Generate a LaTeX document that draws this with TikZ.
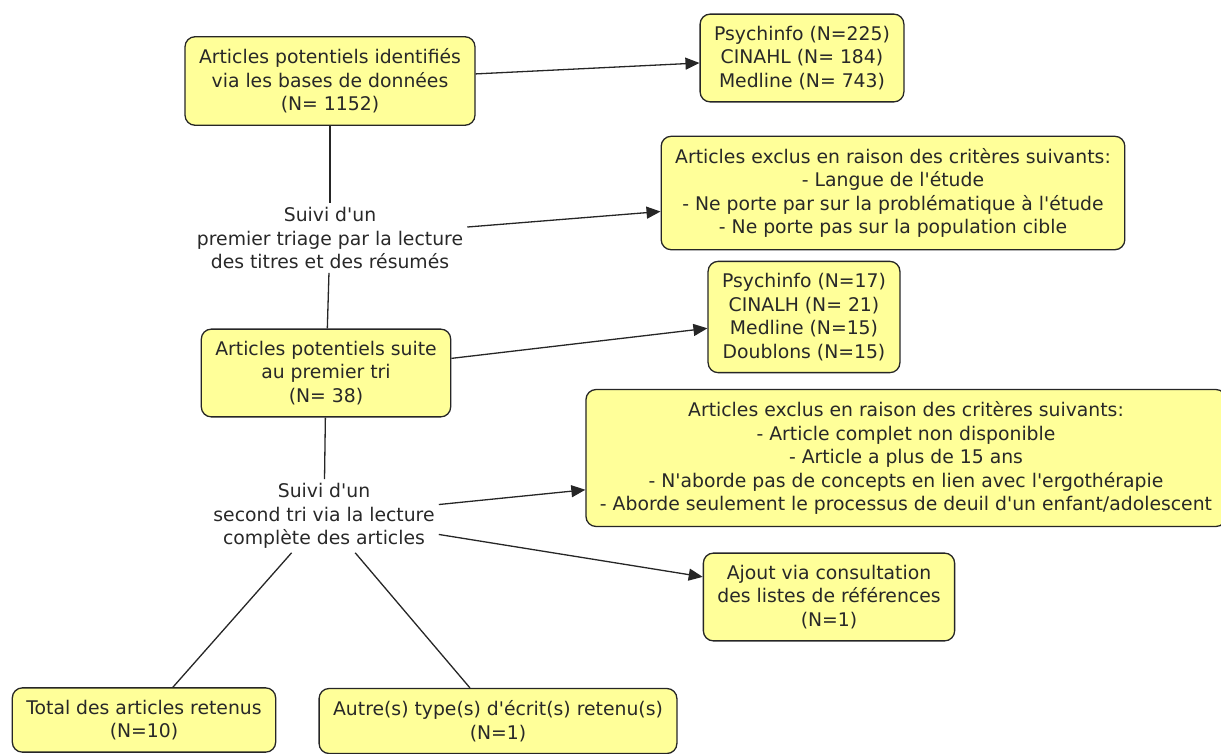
\documentclass[tikz,border=0pt]{standalone}
\usepackage{fontspec}
\setmainfont{DejaVu Sans}[Ligatures=TeXOff]
\usetikzlibrary{arrows.meta}
\definecolor{jaune}{RGB}{255,255,153}
\definecolor{texte}{RGB}{40,40,40}
\tikzset{
 boite/.style={draw=black!85,fill=jaune,rounded corners=10pt,line width=1.3pt,align=center,inner xsep=14pt,inner ysep=12pt,text=texte,font=\fontsize{18.8}{23.5}\selectfont},
 etiq/.style={align=center,inner sep=4pt,text=texte,font=\fontsize{18.8}{23.5}\selectfont},
 lien/.style={line width=1.3pt,draw=black!85},
 fleche/.style={lien,-{Triangle[length=14pt,width=12pt]}}
}
\begin{document}
\begin{tikzpicture}[x=1pt,y=-1pt]
 \useasboundingbox (0,0) rectangle (1221,753);
 \node (boite 1) at (330,81) [boite] {Articles potentiels identifiés\\ via les bases de données\\ (N= 1152)};
 \node (boite 2) at (802,58) [boite] {Psychinfo (N=225)\\ CINAHL (N= 184)\\ Medline (N= 743)};
 \node (etiq 1) at (330,238) [etiq] {Suivi d'un\\ premier triage par la lecture\\ des titres et des résumés};
 \node (boite 3) at (893,193) [boite] {Articles exclus en raison des critères suivants:\\ - Langue de l'étude\\ - Ne porte par sur la problématique à l'étude\\ - Ne porte pas sur la population cible};
 \node (boite 4) at (804,317) [boite] {Psychinfo (N=17)\\ CINALH (N= 21)\\ Medline (N=15)\\ Doublons (N=15)};
 \node (boite 5) at (326,373) [boite] {Articles potentiels suite\\ au premier tri\\ (N= 38)};
 \node (etiq 2) at (324,516) [etiq] {Suivi d'un\\ second tri via la lecture\\ complète des articles};
 \node (boite 6) at (906,458) [boite] {Articles exclus en raison des critères suivants:\\ - Article complet non disponible\\ - Article a plus de 15 ans\\ - N'aborde pas de concepts en lien avec l'ergothérapie\\ - Aborde seulement le processus de deuil d'un enfant/adolescent};
 \node (boite 7) at (829,597) [boite] {Ajout via consultation\\ des listes de références\\ (N=1)};
 \node (boite 8) at (144,720) [boite] {Total des articles retenus\\ (N=10)};
 \node (boite 9) at (498,721) [boite] {Autre(s) type(s) d'écrit(s) retenu(s)\\ (N=1)};
 \draw [fleche] (boite 1) -- (boite 2);
 \draw [lien] (boite 1) -- (etiq 1);
 \draw [lien] (etiq 1) -- (boite 5);
 \draw [fleche] (etiq 1) -- (boite 3);
 \draw [fleche] (boite 5) -- (boite 4);
 \draw [lien] (boite 5) -- (etiq 2);
 \draw [fleche] (etiq 2) -- (boite 6);
 \draw [fleche] (etiq 2) -- (boite 7);
 \draw [lien] (etiq 2) -- (boite 8);
 \draw [lien] (etiq 2) -- (boite 9);
\end{tikzpicture}
\end{document}
